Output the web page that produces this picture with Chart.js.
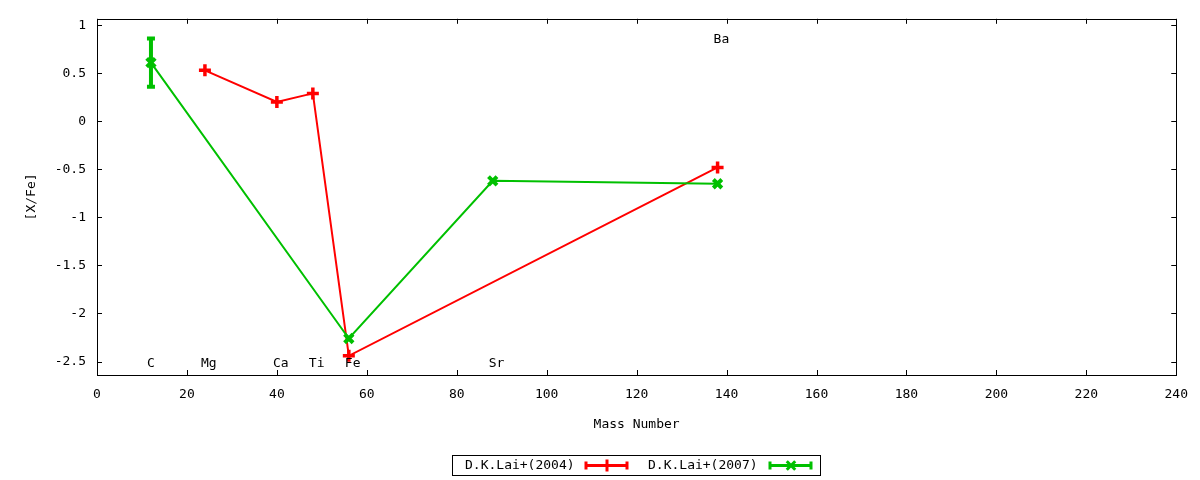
<!DOCTYPE html>
<html>
<head>
<meta charset="utf-8">
<script src="https://cdn.jsdelivr.net/npm/chart.js@4.4.0/dist/chart.umd.min.js"></script>
<style>
html, body { margin: 0; padding: 0; background: #fff; }
#wrap { width: 1200px; height: 480px; }
</style>
</head>
<body>
<div id="wrap"><canvas id="myChart1"></canvas></div>
<script>
// D.K.Lai+(2004)
var massLai2004 = [24, 40, 48, 56, 138];
var xfeLai2004 = [0.53, 0.20, 0.29, -2.44, -0.48];
// D.K.Lai+(2007)
var massLai2007 = [12, 56, 88, 138];
var xfeLai2007 = [0.61, -2.26, -0.62, -0.65];
var errLai2007 = [0.25, 0, 0, 0];

// element labels
var elemNames = ['C', 'Mg', 'Ca', 'Ti', 'Fe', 'Sr', 'Ba'];
var elemMass = [12, 24, 40, 48, 56, 88, 138];
var elemY = [-2.52, -2.52, -2.52, -2.52, -2.52, -2.52, 0.85];

var xTicks = [0, 20, 40, 60, 80, 100, 120, 140, 160, 180, 200, 220, 240];
var yTicks = [-2.5, -2, -1.5, -1, -0.5, 0, 0.5, 1];

var FONT = '"DejaVu Sans Mono", monospace';
var RED = 'rgb(255, 0, 0)';
var GREEN = 'rgb(0, 192, 0)';

function pts(xs, ys) {
    return xs.map(function (x, i) { return { x: x, y: ys[i] }; });
}

var gnuplotLook = {
    id: 'gnuplotLook',
    afterDatasetsDraw: function (chart) {
        var c = chart.ctx, xs = chart.scales.x, ys = chart.scales.y;
        // error bars for 2007 data
        c.save();
        c.strokeStyle = GREEN;
        c.lineWidth = 4;
        massLai2007.forEach(function (m, i) {
            var e = errLai2007[i];
            if (!e) return;
            var px = xs.getPixelForValue(m);
            var top = ys.getPixelForValue(xfeLai2007[i] + e);
            var bot = ys.getPixelForValue(xfeLai2007[i] - e);
            c.beginPath();
            c.moveTo(px, top); c.lineTo(px, bot);
            c.moveTo(px - 4, top); c.lineTo(px + 4, top);
            c.moveTo(px - 4, bot); c.lineTo(px + 4, bot);
            c.stroke();
        });
        // element labels
        c.fillStyle = '#000';
        c.font = '13px ' + FONT;
        c.textAlign = 'left';
        c.textBaseline = 'middle';
        elemNames.forEach(function (n, i) {
            c.fillText(n, xs.getPixelForValue(elemMass[i]) - 4, ys.getPixelForValue(elemY[i]));
        });
        c.restore();
    },
    afterDraw: function (chart) {
        var c = chart.ctx, a = chart.chartArea, xs = chart.scales.x, ys = chart.scales.y;
        c.save();
        c.strokeStyle = '#000';
        c.lineWidth = 1;
        // frame
        c.strokeRect(Math.round(a.left) + 0.5, Math.round(a.top) + 0.5,
            Math.round(a.right - a.left), Math.round(a.bottom - a.top));
        // inward ticks on all sides
        c.beginPath();
        xTicks.forEach(function (v) {
            var px = Math.round(xs.getPixelForValue(v)) + 0.5;
            c.moveTo(px, a.bottom); c.lineTo(px, a.bottom - 5);
            c.moveTo(px, a.top); c.lineTo(px, a.top + 5);
        });
        yTicks.forEach(function (v) {
            var py = Math.round(ys.getPixelForValue(v)) + 0.5;
            c.moveTo(a.left, py); c.lineTo(a.left + 5, py);
            c.moveTo(a.right, py); c.lineTo(a.right - 5, py);
        });
        c.stroke();

        // legend box
        var bx = 452, by = 455, bw = 368, bh = 20;
        c.strokeRect(bx + 0.5, by + 0.5, bw, bh);
        c.font = '13px ' + FONT;
        c.fillStyle = '#000';
        c.textAlign = 'left';
        c.textBaseline = 'middle';
        var entries = [
            { label: chart.data.datasets[1].label, color: RED, tx: 465, sx: 585, style: 'cross', bw: 3 },
            { label: chart.data.datasets[0].label, color: GREEN, tx: 648, sx: 769, style: 'crossRot', bw: 4 }
        ];
        var cy = by + bh / 2 + 0.5;
        entries.forEach(function (en) {
            c.fillStyle = '#000';
            c.fillText(en.label, en.tx, cy);
            c.strokeStyle = en.color;
            c.lineWidth = 3;
            c.beginPath();
            c.moveTo(en.sx, cy); c.lineTo(en.sx + 43, cy);
            c.moveTo(en.sx + 1, cy - 4); c.lineTo(en.sx + 1, cy + 4);
            c.moveTo(en.sx + 42, cy - 4); c.lineTo(en.sx + 42, cy + 4);
            c.stroke();
            Chart.helpers.drawPoint(c, {
                pointStyle: en.style, radius: 6, borderWidth: en.bw
            }, en.sx + 22, cy);
        });
        c.restore();
    }
};

var ctx = document.getElementById('myChart1').getContext('2d');

var myChart = new Chart(ctx, {
    type: 'line',
    data: {
        datasets: [{
            label: 'D.K.Lai+(2007)',
            data: pts(massLai2007, xfeLai2007),
            borderColor: GREEN,
            backgroundColor: GREEN,
            borderWidth: 2,
            pointStyle: 'crossRot',
            pointRadius: 6,
            pointBorderWidth: 4,
            tension: 0
        }, {
            label: 'D.K.Lai+(2004)',
            data: pts(massLai2004, xfeLai2004),
            borderColor: RED,
            backgroundColor: RED,
            borderWidth: 2,
            pointStyle: 'cross',
            pointRadius: 6,
            pointBorderWidth: 3.5,
            tension: 0
        }]
    },
    options: {
        responsive: true,
        maintainAspectRatio: false,
        animation: false,
        events: [],
        layout: { padding: { left: 0, top: 17, right: 23, bottom: 0 } },
        plugins: {
            legend: { display: false },
            tooltip: { enabled: false }
        },
        scales: {
            x: {
                type: 'linear',
                min: 0,
                max: 240,
                afterBuildTicks: function (s) {
                    s.ticks = xTicks.map(function (v) { return { value: v }; });
                },
                afterFit: function (s) { s.height = 105; },
                grid: { display: false, drawTicks: false },
                border: { display: false },
                ticks: {
                    color: '#000',
                    padding: 12,
                    maxRotation: 0,
                    font: { family: FONT, size: 13 }
                },
                title: {
                    display: true,
                    text: 'Mass Number',
                    color: '#000',
                    padding: { top: 48, bottom: 48 },
                    font: { family: FONT, size: 13 }
                }
            },
            y: {
                type: 'linear',
                min: -2.64,
                max: 1.066,
                afterBuildTicks: function (s) {
                    s.ticks = yTicks.map(function (v) { return { value: v }; });
                },
                afterFit: function (s) { s.width = 97; },
                grid: { display: false, drawTicks: false },
                border: { display: false },
                ticks: {
                    color: '#000',
                    padding: 11,
                    font: { family: FONT, size: 13 },
                    callback: function (v) { return String(v); }
                },
                title: {
                    display: true,
                    text: '[X/Fe]',
                    color: '#000',
                    padding: { top: 24, bottom: 24 },
                    font: { family: FONT, size: 13 }
                }
            }
        }
    },
    plugins: [gnuplotLook]
});
</script>
</body>
</html>
